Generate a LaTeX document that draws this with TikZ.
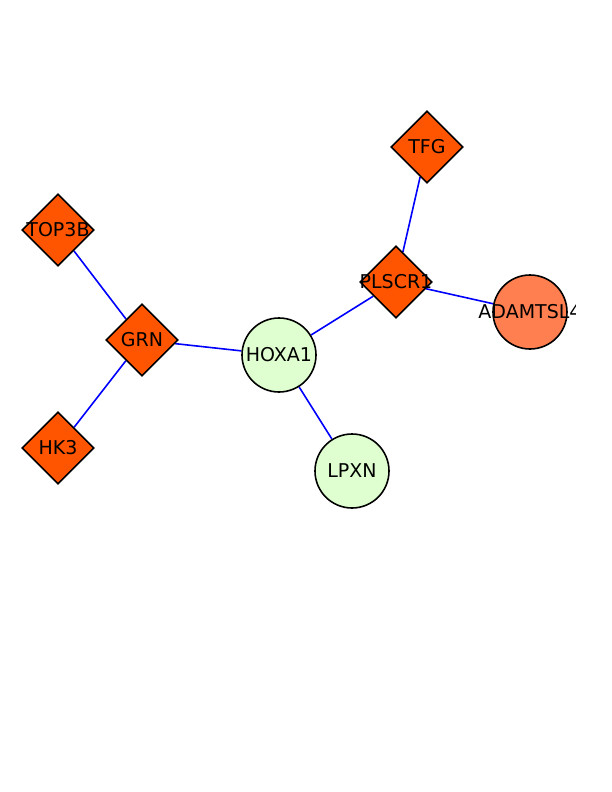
\documentclass[tikz,border=0pt]{standalone}
\usepackage{fontspec}
\setmainfont{DejaVu Sans}
\usetikzlibrary{shapes.geometric, backgrounds}

\definecolor{hitred}{HTML}{FF5500}
\definecolor{hitgreen}{HTML}{E0FFD0}
\definecolor{hitcoral}{HTML}{FF7F50}

\begin{document}
\begin{tikzpicture}[x=1pt, y=-1pt,
        gene/.style={draw, line width=1.6pt, diamond, minimum width=72pt, minimum height=72pt, inner sep=0pt, fill=hitred,
            label={[font=\fontsize{19}{21}\selectfont]center:#1}},
        partner/.style={draw, line width=1.6pt, circle, minimum size=74pt, inner sep=0pt, fill=hitgreen,
            label={[font=\fontsize{19}{21}\selectfont]center:#1}},
        link/.style={draw=blue, line width=1.6pt}
    ]
    \useasboundingbox (0,0) rectangle (612,792);
    \clip (0,0) rectangle (575,792);
    \node[gene=TOP3B] (top3b) at (58,230) {};
    \node[gene=GRN] (grn) at (142,340) {};
    \node[gene=HK3] (hk3) at (58,448) {};
    \node[partner=HOXA1] (hoxa1) at (279,355) {};
    \node[partner=LPXN] (lpxn) at (352,471) {};
    \node[gene=PLSCR1] (plscr1) at (396,282) {};
    \node[gene=TFG] (tfg) at (427,147) {};
    \node[partner=ADAMTSL4, fill=hitcoral] (adamtsl4) at (530,312) {};

    \begin{pgfonlayer}{background}
    \draw[link] (top3b) -- (grn);
    \draw[link] (hk3) -- (grn);
    \draw[link] (grn) -- (hoxa1);
    \draw[link] (hoxa1) -- (plscr1);
    \draw[link] (hoxa1) -- (lpxn);
    \draw[link] (plscr1) -- (tfg);
    \draw[link] (plscr1) -- (adamtsl4);
    \end{pgfonlayer}
\end{tikzpicture}
\end{document}
